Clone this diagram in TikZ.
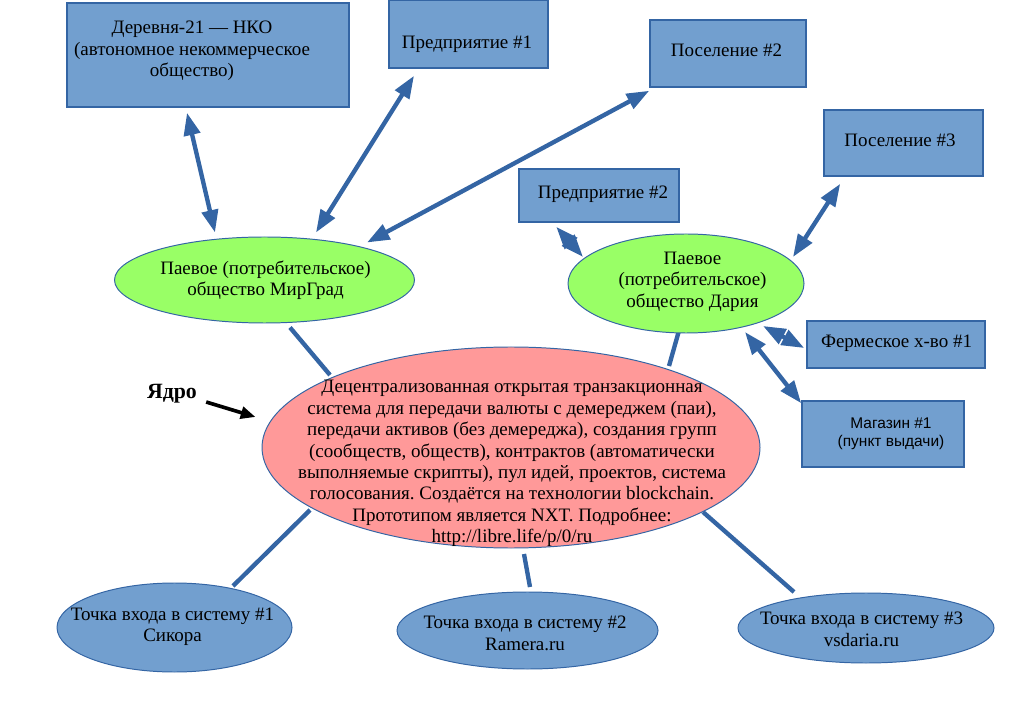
\documentclass[tikz,border=0pt]{standalone}
\usepackage{fontspec}
\setmainfont{Liberation Serif}
\newfontfamily\labelsans{Liberation Sans}
\usetikzlibrary{arrows.meta,shapes.geometric}
\frenchspacing

\definecolor{boxfill}{HTML}{729FCF}
\definecolor{boxline}{HTML}{3465A4}
\definecolor{coopfill}{HTML}{99FF66}
\definecolor{corefill}{HTML}{FF9999}

% one drawing unit = one pixel of a 1024 x 720 sheet
\newcommand\pxl{0.025cm}

\pgfdeclarelayer{links}
\pgfsetlayers{links,main}

\tikzset{
  box/.style={rectangle, draw=boxline, line width=1.1pt, fill=boxfill, inner sep=0pt},
  coop/.style={ellipse, draw=boxline, line width=0.7pt, fill=coopfill, inner sep=0pt},
  core/.style={ellipse, draw=boxline, line width=0.7pt, fill=corefill, inner sep=0pt},
  entry/.style={ellipse, draw=boxline, line width=0.7pt, fill=boxfill, inner sep=0pt},
  txt/.style={align=center, inner sep=0pt, font=\fontsize{13.5}{15.2}\selectfont},
  smalltxt/.style={align=center, inner sep=0pt, font=\labelsans\fontsize{11}{12.8}\selectfont},
  link/.style={draw=boxline, line width=3.1pt},
  both/.style={link, {Triangle[length=16pt,width=11.5pt]}-{Triangle[length=16pt,width=11.5pt]}},
  pointer/.style={draw=black, line width=2.6pt, -{Triangle[length=10.5pt,width=8.5pt]}}
}

\begin{document}
\begin{tikzpicture}[x=0.025cm, y=-0.025cm]
\useasboundingbox (0,0) rectangle (1024,720);

% ---- boxes ----
\node[box, minimum width=282*\pxl, minimum height=104*\pxl] (derevnya) at (208,55) {};
\node[box, minimum width=159*\pxl, minimum height=68*\pxl] (pred1) at (468.5,34) {};
\node[box, minimum width=156*\pxl, minimum height=67*\pxl] (pos2) at (728,53.5) {};
\node[box, minimum width=159*\pxl, minimum height=66*\pxl] (pos3) at (903.5,143) {};
\node[box, minimum width=160*\pxl, minimum height=53*\pxl] (pred2) at (599,195.5) {};
\node[box, minimum width=178*\pxl, minimum height=47*\pxl] (ferm) at (896,344.5) {};
\node[box, minimum width=162*\pxl, minimum height=66*\pxl] (mag) at (883,434) {};

% ---- ellipses ----
\node[coop, minimum width=300*\pxl, minimum height=86*\pxl] (mirgrad) at (264.5,280) {};
\node[coop, minimum width=236*\pxl, minimum height=99*\pxl] (daria) at (686,283.5) {};
\node[core, minimum width=498*\pxl, minimum height=201*\pxl] (core) at (511,447.5) {};
\node[entry, minimum width=235*\pxl, minimum height=89*\pxl] (e1) at (174.5,627.5) {};
\node[entry, minimum width=261*\pxl, minimum height=77*\pxl] (e2) at (527.5,630.5) {};
\node[entry, minimum width=256*\pxl, minimum height=70*\pxl] (e3) at (866,628) {};

% ---- texts ----
\node[txt] (derevnya-t) at (192,51) {Деревня-21 — НКО\\(автономное некоммерческое\\общество)};
\node[txt] (pred1-t) at (467,44) {Предприятие \#1};
\node[txt] (pos2-t) at (726.5,50) {Поселение \#2};
\node[txt] (pos3-t) at (900,140) {Поселение \#3};
\node[txt] (pred2-t) at (603,194) {Предприятие \#2};
\node[txt] (ferm-t) at (896.5,343) {Фермеское х-во \#1};
\node[smalltxt] (mag-t) at (891,434) {Магазин \#1\\(пункт выдачи)};
\node[txt] (mirgrad-t) at (265.5,280.5) {Паевое (потребительское)\\общество МирГрад};
\node[txt] (daria-t) at (692.5,281.5) {Паевое\\(потребительское)\\общество Дария};
\node[txt] (core-t) at (512,463.5) {Децентрализованная открытая транзакционная\\система для передачи валюты с демереджем (паи),\\передачи активов (без демереджа), создания групп\\(сообществ, обществ), контрактов (автоматически\\выполняемые скрипты), пул идей, проектов, система\\голосования. Создаётся на технологии blockchain.\\Прототипом является NXT. Подробнее:\\http://libre.life/p/0/ru};
\node[txt] (e1-t) at (172.5,627) {Точка входа в систему \#1\\Сикора};
\node[txt] (e2-t) at (525,633.5) {Точка входа в систему \#2\\Ramera.ru};
\node[txt] (e3-t) at (861.5,629.5) {Точка входа в систему \#3\\vsdaria.ru};
\node[inner sep=0pt, font=\bfseries\fontsize{15.5}{17}\selectfont] (yadro) at (172,394) {Ядро};

% ---- plain links, kept beneath the shapes ----
\begin{pgfonlayer}{links}
\draw[link] ([shift={(25.5,4)}]mirgrad.south) -- ([shift={(-181,-72.5)}]core.center);
\draw[link] ([shift={(19,-45)}]daria.center) -- ([shift={(158,-81.5)}]core.center);
\draw[link] ([shift={(-201,62.5)}]core.center) -- ([shift={(58.5,-41.5)}]e1.center);
\draw[link] ([shift={(13,106.5)}]core.center) -- ([shift={(2.5,-43.5)}]e2.center);
\draw[link] ([shift={(192,64.5)}]core.center) -- ([shift={(-72,-36)}]e3.center);
\end{pgfonlayer}

% ---- two-way links ----
\draw[both] ([shift={(-21,5)}]derevnya.south) -- ([shift={(-49.5,-4)}]mirgrad.north);
\draw[both] ([shift={(-54.5,7)}]pred1.south) -- ([shift={(51.5,-4)}]mirgrad.north);
\draw[both] ([shift={(0,3)}]pos2.south west) -- ([shift={(102.5,6)}]mirgrad.north);
\draw[both] ([shift={(38,4)}]pred2.south west) -- ([shift={(-103,-26.5)}]daria.center);
\draw[both] ([shift={(17,7)}]pos3.south west) -- ([shift={(107,-26.5)}]daria.center);
\draw[both] ([shift={(-2,3.5)}]ferm.west) -- ([shift={(77,42.5)}]daria.center);
\draw[both] ([shift={(0,3)}]mag.north west) -- ([shift={(59,48.5)}]daria.center);

% ---- pointer to the core ----
\draw[pointer] ([shift={(9,8)}]yadro.east) -- ([shift={(-6,-30.5)}]core.west);

\end{tikzpicture}
\end{document}
